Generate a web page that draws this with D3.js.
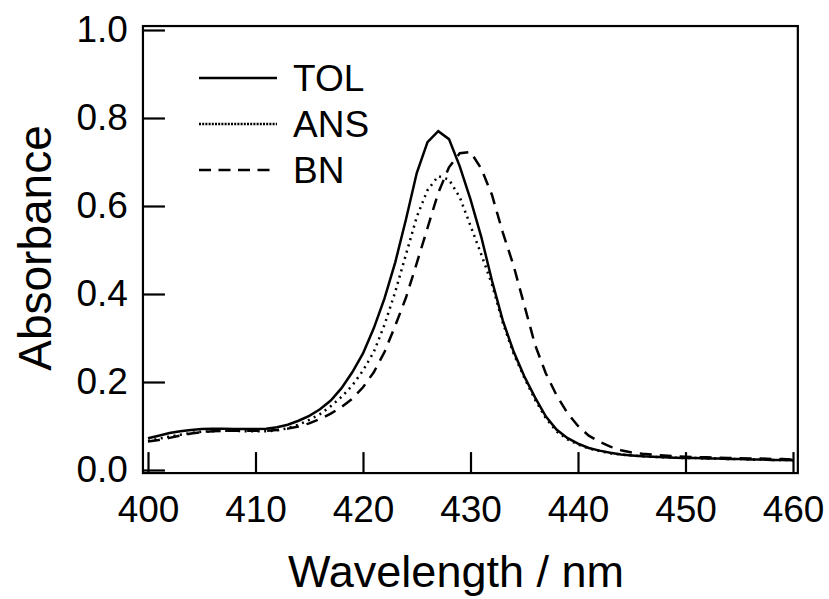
<!DOCTYPE html>
<html>
<head>
<meta charset="utf-8">
<script src="https://cdn.jsdelivr.net/npm/d3@7"></script>
<style>
  html, body { margin: 0; padding: 0; background: #fff; }
  svg { display: block; font-family: "Liberation Sans", Arial, sans-serif; }
</style>
</head>
<body>
<svg id="chart" width="829" height="599"></svg>
<script>
// Absorption spectra, 1 nm steps
var wavelengths = d3.range(400, 461);

var tolValues = [
  0.072, 0.078, 0.084, 0.088, 0.091, 0.093, 0.094, 0.094, 0.093, 0.093,
  0.093, 0.094, 0.097, 0.103, 0.112, 0.123, 0.138, 0.158, 0.186, 0.222,
  0.265, 0.322, 0.390, 0.472, 0.570, 0.675, 0.745, 0.770, 0.752, 0.690,
  0.615, 0.530, 0.430, 0.340, 0.270, 0.213, 0.165, 0.122, 0.092, 0.073,
  0.060, 0.050, 0.044, 0.039, 0.035, 0.033, 0.031, 0.030, 0.029, 0.028,
  0.027, 0.027, 0.026, 0.026, 0.025, 0.025, 0.024, 0.024, 0.023, 0.023,
  0.022
];

var ansValues = [
  0.066, 0.071, 0.076, 0.080, 0.084, 0.087, 0.088, 0.089, 0.089, 0.088,
  0.088, 0.088, 0.090, 0.095, 0.103, 0.114, 0.127, 0.145, 0.166, 0.192,
  0.226, 0.268, 0.330, 0.405, 0.490, 0.575, 0.636, 0.668, 0.660, 0.620,
  0.555, 0.490, 0.422, 0.335, 0.265, 0.210, 0.160, 0.118, 0.088, 0.070,
  0.058, 0.049, 0.043, 0.038, 0.035, 0.033, 0.031, 0.030, 0.029, 0.028,
  0.027, 0.027, 0.026, 0.026, 0.025, 0.025, 0.024, 0.024, 0.023, 0.023,
  0.022
];

var bnValues = [
  0.065, 0.068, 0.073, 0.078, 0.083, 0.086, 0.088, 0.089, 0.089, 0.089,
  0.089, 0.089, 0.091, 0.094, 0.099, 0.106, 0.116, 0.128, 0.143, 0.162,
  0.188, 0.222, 0.268, 0.328, 0.392, 0.470, 0.550, 0.630, 0.688, 0.720,
  0.723, 0.685, 0.625, 0.540, 0.465, 0.375, 0.285, 0.220, 0.170, 0.130,
  0.100, 0.078, 0.064, 0.053, 0.045, 0.040, 0.037, 0.035, 0.033, 0.031,
  0.030, 0.029, 0.029, 0.028, 0.027, 0.027, 0.026, 0.026, 0.025, 0.025,
  0.024
];

var seriesNames = ["TOL", "ANS", "BN"];
var xTicks = [400, 410, 420, 430, 440, 450, 460];
var yTicks = [0.0, 0.2, 0.4, 0.6, 0.8, 1.0];

var series = [
  { name: seriesNames[0], values: tolValues, dash: null, legendDash: null },
  { name: seriesNames[1], values: ansValues, dash: "2,4.5", legendDash: "2,1.2" },
  { name: seriesNames[2], values: bnValues, dash: "12,8", legendDash: "12,7.5" }
];

var svg = d3.select("#chart");

var x = d3.scaleLinear().domain([400, 460]).range([148, 793]);
var y = d3.scaleLinear().domain([0, 1]).range([470, 30]);

var frameLeft = x(399.53), frameRight = x(460.45);
var frameTop = y(1.009), frameBottom = y(-0.007);

// curves
var line = d3.line()
  .x(function (d) { return x(d[0]); })
  .y(function (d) { return y(d[1]); });

svg.append("g")
  .selectAll("path")
  .data(series)
  .join("path")
  .attr("d", function (s) {
    return line(wavelengths.map(function (w, i) { return [w, s.values[i]]; }));
  })
  .attr("fill", "none")
  .attr("stroke", "#000")
  .attr("stroke-width", 2.5)
  .attr("stroke-linejoin", "miter")
  .attr("stroke-dasharray", function (s) { return s.dash; });

// axes (ticks point inward)
var xAxis = svg.append("g")
  .attr("transform", "translate(0," + frameBottom + ")")
  .call(d3.axisBottom(x).tickValues(xTicks).tickSize(-21).tickPadding(23)
    .tickFormat(d3.format("d")));

var yAxis = svg.append("g")
  .attr("transform", "translate(" + frameLeft + ",0)")
  .call(d3.axisLeft(y).tickValues(yTicks).tickSize(-22).tickPadding(15)
    .tickFormat(d3.format(".1f")));

[xAxis, yAxis].forEach(function (g) {
  g.select(".domain").remove();
  g.selectAll(".tick line").attr("stroke", "#000").attr("stroke-width", 2.2);
  g.selectAll(".tick text")
    .attr("fill", "#000")
    .style("font-size", "37px")
    .style("font-family", "'Liberation Sans', Arial, sans-serif");
});

// frame
svg.append("rect")
  .attr("x", frameLeft)
  .attr("y", frameTop)
  .attr("width", frameRight - frameLeft)
  .attr("height", frameBottom - frameTop)
  .attr("fill", "none")
  .attr("stroke", "#000")
  .attr("stroke-width", 2.2);

// legend
var legend = svg.append("g")
  .selectAll("g")
  .data(series)
  .join("g")
  .attr("transform", function (s, i) { return "translate(0," + (78 + i * 46) + ")"; });

legend.append("line")
  .attr("x1", 199).attr("x2", 277)
  .attr("stroke", "#000")
  .attr("stroke-width", 2.5)
  .attr("stroke-dasharray", function (s) { return s.legendDash; });

legend.append("text")
  .attr("x", 293)
  .attr("y", 12.5)
  .style("font-size", "37px")
  .text(function (s) { return s.name; });

// axis titles
svg.append("text")
  .attr("transform", "translate(51,248) rotate(-90)")
  .attr("text-anchor", "middle")
  .style("font-size", "46px")
  .text("Absorbance");

svg.append("text")
  .attr("x", 456)
  .attr("y", 587)
  .attr("text-anchor", "middle")
  .style("font-size", "45px")
  .text("Wavelength / nm");
</script>
</body>
</html>
